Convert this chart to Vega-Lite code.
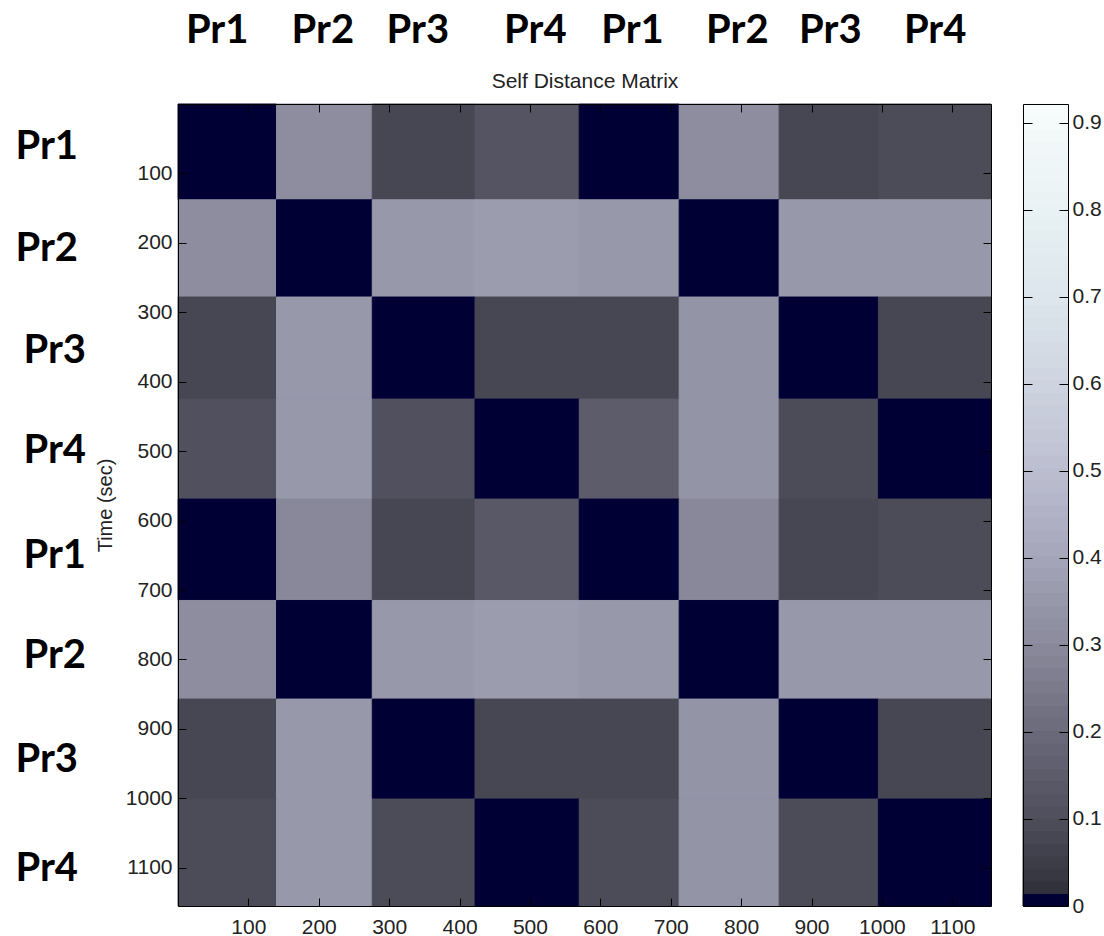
{
  "$schema": "https://vega.github.io/schema/vega-lite/v6.json",
  "padding": {"left": 15, "top": 10, "right": 0, "bottom": 0},
  "background": "white",
  "bounds": "flush",
  "spacing": 32,
  "resolve": {"scale": {"x": "independent", "y": "independent", "color": "independent", "stroke": "independent"}},
  "config": {
    "view": {"stroke": null},
    "axis": {"grid": false}
  },
  "datasets": {
    "cells": [
      {"x0": 0, "x1": 140, "y0": 0, "y1": 138, "d": 0},
      {"x0": 140, "x1": 276, "y0": 0, "y1": 138, "d": 0.31},
      {"x0": 276, "x1": 422, "y0": 0, "y1": 138, "d": 0.08},
      {"x0": 422, "x1": 570, "y0": 0, "y1": 138, "d": 0.12},
      {"x0": 570, "x1": 712, "y0": 0, "y1": 138, "d": 0},
      {"x0": 712, "x1": 854, "y0": 0, "y1": 138, "d": 0.31},
      {"x0": 854, "x1": 995, "y0": 0, "y1": 138, "d": 0.08},
      {"x0": 995, "x1": 1155, "y0": 0, "y1": 138, "d": 0.09},

      {"x0": 0, "x1": 140, "y0": 138, "y1": 278, "d": 0.31},
      {"x0": 140, "x1": 276, "y0": 138, "y1": 278, "d": 0},
      {"x0": 276, "x1": 422, "y0": 138, "y1": 278, "d": 0.355},
      {"x0": 422, "x1": 570, "y0": 138, "y1": 278, "d": 0.365},
      {"x0": 570, "x1": 712, "y0": 138, "y1": 278, "d": 0.355},
      {"x0": 712, "x1": 854, "y0": 138, "y1": 278, "d": 0},
      {"x0": 854, "x1": 995, "y0": 138, "y1": 278, "d": 0.355},
      {"x0": 995, "x1": 1155, "y0": 138, "y1": 278, "d": 0.355},

      {"x0": 0, "x1": 140, "y0": 278, "y1": 425, "d": 0.08},
      {"x0": 140, "x1": 276, "y0": 278, "y1": 425, "d": 0.355},
      {"x0": 276, "x1": 422, "y0": 278, "y1": 425, "d": 0},
      {"x0": 422, "x1": 570, "y0": 278, "y1": 425, "d": 0.085},
      {"x0": 570, "x1": 712, "y0": 278, "y1": 425, "d": 0.08},
      {"x0": 712, "x1": 854, "y0": 278, "y1": 425, "d": 0.345},
      {"x0": 854, "x1": 995, "y0": 278, "y1": 425, "d": 0},
      {"x0": 995, "x1": 1155, "y0": 278, "y1": 425, "d": 0.085},

      {"x0": 0, "x1": 140, "y0": 425, "y1": 569, "d": 0.11},
      {"x0": 140, "x1": 276, "y0": 425, "y1": 569, "d": 0.355},
      {"x0": 276, "x1": 422, "y0": 425, "y1": 569, "d": 0.11},
      {"x0": 422, "x1": 570, "y0": 425, "y1": 569, "d": 0},
      {"x0": 570, "x1": 712, "y0": 425, "y1": 569, "d": 0.15},
      {"x0": 712, "x1": 854, "y0": 425, "y1": 569, "d": 0.345},
      {"x0": 854, "x1": 995, "y0": 425, "y1": 569, "d": 0.1},
      {"x0": 995, "x1": 1155, "y0": 425, "y1": 569, "d": 0},

      {"x0": 0, "x1": 140, "y0": 569, "y1": 715, "d": 0},
      {"x0": 140, "x1": 276, "y0": 569, "y1": 715, "d": 0.3},
      {"x0": 276, "x1": 422, "y0": 569, "y1": 715, "d": 0.08},
      {"x0": 422, "x1": 570, "y0": 569, "y1": 715, "d": 0.14},
      {"x0": 570, "x1": 712, "y0": 569, "y1": 715, "d": 0},
      {"x0": 712, "x1": 854, "y0": 569, "y1": 715, "d": 0.3},
      {"x0": 854, "x1": 995, "y0": 569, "y1": 715, "d": 0.08},
      {"x0": 995, "x1": 1155, "y0": 569, "y1": 715, "d": 0.1},

      {"x0": 0, "x1": 140, "y0": 715, "y1": 857, "d": 0.31},
      {"x0": 140, "x1": 276, "y0": 715, "y1": 857, "d": 0},
      {"x0": 276, "x1": 422, "y0": 715, "y1": 857, "d": 0.355},
      {"x0": 422, "x1": 570, "y0": 715, "y1": 857, "d": 0.365},
      {"x0": 570, "x1": 712, "y0": 715, "y1": 857, "d": 0.355},
      {"x0": 712, "x1": 854, "y0": 715, "y1": 857, "d": 0},
      {"x0": 854, "x1": 995, "y0": 715, "y1": 857, "d": 0.355},
      {"x0": 995, "x1": 1155, "y0": 715, "y1": 857, "d": 0.355},

      {"x0": 0, "x1": 140, "y0": 857, "y1": 1001, "d": 0.08},
      {"x0": 140, "x1": 276, "y0": 857, "y1": 1001, "d": 0.355},
      {"x0": 276, "x1": 422, "y0": 857, "y1": 1001, "d": 0},
      {"x0": 422, "x1": 570, "y0": 857, "y1": 1001, "d": 0.085},
      {"x0": 570, "x1": 712, "y0": 857, "y1": 1001, "d": 0.08},
      {"x0": 712, "x1": 854, "y0": 857, "y1": 1001, "d": 0.345},
      {"x0": 854, "x1": 995, "y0": 857, "y1": 1001, "d": 0},
      {"x0": 995, "x1": 1155, "y0": 857, "y1": 1001, "d": 0.085},

      {"x0": 0, "x1": 140, "y0": 1001, "y1": 1155, "d": 0.1},
      {"x0": 140, "x1": 276, "y0": 1001, "y1": 1155, "d": 0.355},
      {"x0": 276, "x1": 422, "y0": 1001, "y1": 1155, "d": 0.1},
      {"x0": 422, "x1": 570, "y0": 1001, "y1": 1155, "d": 0},
      {"x0": 570, "x1": 712, "y0": 1001, "y1": 1155, "d": 0.1},
      {"x0": 712, "x1": 854, "y0": 1001, "y1": 1155, "d": 0.345},
      {"x0": 854, "x1": 995, "y0": 1001, "y1": 1155, "d": 0.1},
      {"x0": 995, "x1": 1155, "y0": 1001, "y1": 1155, "d": 0}
    ],
    "bands": [
      {"lo": 0, "hi": 0.0144, "d": 0.0072},
      {"lo": 0.0144, "hi": 0.0288, "d": 0.0216},
      {"lo": 0.0288, "hi": 0.0432, "d": 0.036},
      {"lo": 0.0432, "hi": 0.0576, "d": 0.0504},
      {"lo": 0.0576, "hi": 0.072, "d": 0.0648},
      {"lo": 0.072, "hi": 0.0864, "d": 0.0792},
      {"lo": 0.0864, "hi": 0.1008, "d": 0.0936},
      {"lo": 0.1008, "hi": 0.1152, "d": 0.108},
      {"lo": 0.1152, "hi": 0.1296, "d": 0.1224},
      {"lo": 0.1296, "hi": 0.144, "d": 0.1368},
      {"lo": 0.144, "hi": 0.1584, "d": 0.1512},
      {"lo": 0.1584, "hi": 0.1728, "d": 0.1656},
      {"lo": 0.1728, "hi": 0.1872, "d": 0.18},
      {"lo": 0.1872, "hi": 0.2016, "d": 0.1944},
      {"lo": 0.2016, "hi": 0.216, "d": 0.2088},
      {"lo": 0.216, "hi": 0.2304, "d": 0.2232},
      {"lo": 0.2304, "hi": 0.2448, "d": 0.2376},
      {"lo": 0.2448, "hi": 0.2592, "d": 0.252},
      {"lo": 0.2592, "hi": 0.2736, "d": 0.2664},
      {"lo": 0.2736, "hi": 0.288, "d": 0.2808},
      {"lo": 0.288, "hi": 0.3024, "d": 0.2952},
      {"lo": 0.3024, "hi": 0.3168, "d": 0.3096},
      {"lo": 0.3168, "hi": 0.3312, "d": 0.324},
      {"lo": 0.3312, "hi": 0.3456, "d": 0.3384},
      {"lo": 0.3456, "hi": 0.36, "d": 0.3528},
      {"lo": 0.36, "hi": 0.3744, "d": 0.3672},
      {"lo": 0.3744, "hi": 0.3888, "d": 0.3816},
      {"lo": 0.3888, "hi": 0.4032, "d": 0.396},
      {"lo": 0.4032, "hi": 0.4176, "d": 0.4104},
      {"lo": 0.4176, "hi": 0.432, "d": 0.4248},
      {"lo": 0.432, "hi": 0.4464, "d": 0.4392},
      {"lo": 0.4464, "hi": 0.4608, "d": 0.4536},
      {"lo": 0.4608, "hi": 0.4752, "d": 0.468},
      {"lo": 0.4752, "hi": 0.4896, "d": 0.4824},
      {"lo": 0.4896, "hi": 0.504, "d": 0.4968},
      {"lo": 0.504, "hi": 0.5184, "d": 0.5112},
      {"lo": 0.5184, "hi": 0.5328, "d": 0.5256},
      {"lo": 0.5328, "hi": 0.5472, "d": 0.54},
      {"lo": 0.5472, "hi": 0.5616, "d": 0.5544},
      {"lo": 0.5616, "hi": 0.576, "d": 0.5688},
      {"lo": 0.576, "hi": 0.5904, "d": 0.5832},
      {"lo": 0.5904, "hi": 0.6048, "d": 0.5976},
      {"lo": 0.6048, "hi": 0.6192, "d": 0.612},
      {"lo": 0.6192, "hi": 0.6336, "d": 0.6264},
      {"lo": 0.6336, "hi": 0.648, "d": 0.6408},
      {"lo": 0.648, "hi": 0.6624, "d": 0.6552},
      {"lo": 0.6624, "hi": 0.6768, "d": 0.6696},
      {"lo": 0.6768, "hi": 0.6912, "d": 0.684},
      {"lo": 0.6912, "hi": 0.7056, "d": 0.6984},
      {"lo": 0.7056, "hi": 0.72, "d": 0.7128},
      {"lo": 0.72, "hi": 0.7344, "d": 0.7272},
      {"lo": 0.7344, "hi": 0.7488, "d": 0.7416},
      {"lo": 0.7488, "hi": 0.7632, "d": 0.756},
      {"lo": 0.7632, "hi": 0.7776, "d": 0.7704},
      {"lo": 0.7776, "hi": 0.792, "d": 0.7848},
      {"lo": 0.792, "hi": 0.8064, "d": 0.7992},
      {"lo": 0.8064, "hi": 0.8208, "d": 0.8136},
      {"lo": 0.8208, "hi": 0.8352, "d": 0.828},
      {"lo": 0.8352, "hi": 0.8496, "d": 0.8424},
      {"lo": 0.8496, "hi": 0.864, "d": 0.8568},
      {"lo": 0.864, "hi": 0.8784, "d": 0.8712},
      {"lo": 0.8784, "hi": 0.8928, "d": 0.8856},
      {"lo": 0.8928, "hi": 0.9072, "d": 0.9},
      {"lo": 0.9072, "hi": 0.9216, "d": 0.9144}
    ]
  },
  "hconcat": [
    {
      "width": 813,
      "height": 802,
      "data": {"name": "cells"},
      "layer": [
        {
          "mark": {"type": "rect", "strokeWidth": 1},
          "encoding": {
            "x": {
              "field": "x0", "type": "quantitative",
              "scale": {"domain": [0, 1155], "nice": false, "zero": false},
              "axis": {
                "orient": "bottom", "title": null,
                "values": [100, 200, 300, 400, 500, 600, 700, 800, 900, 1000, 1100],
                "format": "d",
                "domain": true, "domainColor": "#000", "domainWidth": 1,
                "ticks": true, "tickSize": -8, "tickColor": "#000",
                "labelFont": "Liberation Sans", "labelFontSize": 21, "labelColor": "#222",
                "labelPadding": 18, "labelFlush": false, "labelOverlap": false,
                "zindex": 1
              }
            },
            "x2": {"field": "x1"},
            "y": {
              "field": "y0", "type": "quantitative",
              "scale": {"domain": [0, 1155], "nice": false, "zero": false, "reverse": true},
              "axis": {
                "orient": "left",
                "values": [100, 200, 300, 400, 500, 600, 700, 800, 900, 1000, 1100],
                "format": "d",
                "domain": true, "domainColor": "#000", "domainWidth": 1,
                "ticks": true, "tickSize": -8, "tickColor": "#000",
                "labelFont": "Liberation Sans", "labelFontSize": 21, "labelColor": "#222",
                "labelPadding": 14, "labelFlush": false, "labelOverlap": false,
                "title": "Time (sec)",
                "titleFont": "Liberation Sans", "titleFontSize": 20, "titleFontWeight": "normal",
                "titleColor": "#222", "titlePadding": 10,
                "zindex": 1
              }
            },
            "y2": {"field": "y1"},
            "color": {
              "field": "d", "type": "quantitative",
              "scale": {
                "type": "quantize", "domain": [0, 0.9216], "nice": false,
                "range": [
                  "rgb(0,0,53)", "rgb(50,50,61)", "rgb(56,56,67)", "rgb(61,61,72)",
                  "rgb(66,66,78)", "rgb(71,71,84)", "rgb(76,76,89)", "rgb(80,80,94)",
                  "rgb(84,84,99)", "rgb(88,88,103)", "rgb(92,92,107)", "rgb(96,96,112)",
                  "rgb(100,100,116)", "rgb(104,104,120)", "rgb(109,109,125)", "rgb(113,113,130)",
                  "rgb(118,118,135)", "rgb(123,123,140)", "rgb(127,127,145)", "rgb(132,132,149)",
                  "rgb(136,136,154)", "rgb(141,141,159)", "rgb(144,144,163)", "rgb(148,148,167)",
                  "rgb(152,152,171)", "rgb(156,156,175)", "rgb(160,160,180)", "rgb(164,164,184)",
                  "rgb(167,168,187)", "rgb(171,171,191)", "rgb(174,175,194)", "rgb(177,178,197)",
                  "rgb(181,182,201)", "rgb(184,186,204)", "rgb(187,189,207)", "rgb(190,192,210)",
                  "rgb(193,196,212)", "rgb(195,199,214)", "rgb(198,202,217)", "rgb(200,205,219)",
                  "rgb(203,208,221)", "rgb(206,211,224)", "rgb(208,214,225)", "rgb(210,217,227)",
                  "rgb(212,219,229)", "rgb(214,222,231)", "rgb(216,225,232)", "rgb(218,227,234)",
                  "rgb(220,230,236)", "rgb(222,231,237)", "rgb(223,233,238)", "rgb(225,235,239)",
                  "rgb(227,236,240)", "rgb(228,238,241)", "rgb(230,239,242)", "rgb(232,241,243)",
                  "rgb(234,242,244)", "rgb(236,244,245)", "rgb(238,245,246)", "rgb(239,246,247)",
                  "rgb(241,247,248)", "rgb(243,249,249)", "rgb(245,250,250)", "rgb(247,251,251)"
                ]
              },
              "legend": null
            },
            "stroke": {
              "field": "d", "type": "quantitative",
              "scale": {
                "type": "quantize", "domain": [0, 0.9216], "nice": false,
                "range": [
                  "rgb(0,0,53)", "rgb(50,50,61)", "rgb(56,56,67)", "rgb(61,61,72)",
                  "rgb(66,66,78)", "rgb(71,71,84)", "rgb(76,76,89)", "rgb(80,80,94)",
                  "rgb(84,84,99)", "rgb(88,88,103)", "rgb(92,92,107)", "rgb(96,96,112)",
                  "rgb(100,100,116)", "rgb(104,104,120)", "rgb(109,109,125)", "rgb(113,113,130)",
                  "rgb(118,118,135)", "rgb(123,123,140)", "rgb(127,127,145)", "rgb(132,132,149)",
                  "rgb(136,136,154)", "rgb(141,141,159)", "rgb(144,144,163)", "rgb(148,148,167)",
                  "rgb(152,152,171)", "rgb(156,156,175)", "rgb(160,160,180)", "rgb(164,164,184)",
                  "rgb(167,168,187)", "rgb(171,171,191)", "rgb(174,175,194)", "rgb(177,178,197)",
                  "rgb(181,182,201)", "rgb(184,186,204)", "rgb(187,189,207)", "rgb(190,192,210)",
                  "rgb(193,196,212)", "rgb(195,199,214)", "rgb(198,202,217)", "rgb(200,205,219)",
                  "rgb(203,208,221)", "rgb(206,211,224)", "rgb(208,214,225)", "rgb(210,217,227)",
                  "rgb(212,219,229)", "rgb(214,222,231)", "rgb(216,225,232)", "rgb(218,227,234)",
                  "rgb(220,230,236)", "rgb(222,231,237)", "rgb(223,233,238)", "rgb(225,235,239)",
                  "rgb(227,236,240)", "rgb(228,238,241)", "rgb(230,239,242)", "rgb(232,241,243)",
                  "rgb(234,242,244)", "rgb(236,244,245)", "rgb(238,245,246)", "rgb(239,246,247)",
                  "rgb(241,247,248)", "rgb(243,249,249)", "rgb(245,250,250)", "rgb(247,251,251)"
                ]
              },
              "legend": null
            }
          }
        },
        {
          "mark": {"type": "rect", "opacity": 0},
          "encoding": {
            "x": {
              "field": "x0", "type": "quantitative",
              "scale": {"domain": [0, 1155], "nice": false, "zero": false},
              "axis": {
                "orient": "top",
                "values": [100, 200, 300, 400, 500, 600, 700, 800, 900, 1000, 1100],
                "labels": false,
                "domain": true, "domainColor": "#000", "domainWidth": 1,
                "ticks": true, "tickSize": -8, "tickColor": "#000",
                "title": "Self Distance Matrix",
                "titleFont": "Liberation Sans", "titleFontSize": 21, "titleFontWeight": "normal",
                "titleColor": "#222", "titlePadding": 16, "titleBaseline": "alphabetic",
                "zindex": 1
              }
            },
            "x2": {"field": "x1"},
            "y": {
              "field": "y0", "type": "quantitative",
              "scale": {"domain": [0, 1155], "nice": false, "zero": false, "reverse": true},
              "axis": {
                "orient": "right",
                "values": [100, 200, 300, 400, 500, 600, 700, 800, 900, 1000, 1100],
                "labels": false, "title": null,
                "domain": true, "domainColor": "#000", "domainWidth": 1,
                "ticks": true, "tickSize": -8, "tickColor": "#000",
                "zindex": 1
              }
            },
            "y2": {"field": "y1"}
          }
        },
        {
          "mark": {"type": "rect", "opacity": 0},
          "encoding": {
            "x": {
              "field": "x0", "type": "quantitative",
              "scale": {"domain": [0, 1155], "nice": false, "zero": false},
              "axis": {
                "orient": "top", "title": null,
                "values": [55, 205, 340, 507, 645, 794, 926, 1075],
                "labelExpr": "datum.value < 130 ? 'Pr1' : datum.value < 270 ? 'Pr2' : datum.value < 420 ? 'Pr3' : datum.value < 575 ? 'Pr4' : datum.value < 720 ? 'Pr1' : datum.value < 860 ? 'Pr2' : datum.value < 1000 ? 'Pr3' : 'Pr4'",
                "domain": false, "ticks": false, "tickSize": 0,
                "labelFont": "Lato", "labelFontWeight": "bold", "labelFontSize": 40, "labelColor": "#000",
                "labelPadding": 62, "labelBaseline": "alphabetic", "labelAlign": "center",
                "labelFlush": false, "labelOverlap": false
              }
            },
            "x2": {"field": "x1"},
            "y": {
              "field": "y0", "type": "quantitative",
              "scale": {"domain": [0, 1155], "nice": false, "zero": false, "reverse": true},
              "axis": {
                "orient": "left", "title": null,
                "values": [78, 225, 372, 517, 668, 811, 962, 1118],
                "labelExpr": "datum.value < 150 ? 'Pr1' : datum.value < 300 ? 'Pr2' : datum.value < 445 ? 'Pr3' : datum.value < 590 ? 'Pr4' : datum.value < 740 ? 'Pr1' : datum.value < 885 ? 'Pr2' : datum.value < 1040 ? 'Pr3' : 'Pr4'",
                "domain": false, "ticks": false, "tickSize": 0,
                "labelFont": "Lato", "labelFontWeight": "bold", "labelFontSize": 40, "labelColor": "#000",
                "labelPadding": {"expr": "datum.value > 300 && datum.value < 900 ? 155 : 163"},
                "labelBaseline": "alphabetic", "labelAlign": "left",
                "labelFlush": false, "labelOverlap": false
              }
            },
            "y2": {"field": "y1"}
          }
        }
      ],
      "resolve": {"axis": {"x": "independent", "y": "independent"}}
    },
    {
      "width": 45,
      "height": 802,
      "data": {"name": "bands"},
      "layer": [
        {
          "mark": {"type": "rect", "strokeWidth": 1},
          "encoding": {
            "x": {
              "datum": 0, "type": "quantitative",
              "scale": {"domain": [0, 1], "nice": false, "zero": false},
              "axis": {
                "orient": "bottom", "title": null, "labels": false, "ticks": false,
                "domain": true, "domainColor": "#000", "domainWidth": 1, "zindex": 1
              }
            },
            "x2": {"datum": 1},
            "y": {
              "field": "lo", "type": "quantitative",
              "scale": {"domain": [0, 0.9216], "nice": false, "zero": false},
              "axis": {
                "orient": "right", "title": null,
                "values": [0, 0.1, 0.2, 0.3, 0.4, 0.5, 0.6, 0.7, 0.8, 0.9],
                "labelExpr": "datum.value == 0 ? '0' : format(datum.value, '.1f')",
                "domain": true, "domainColor": "#000", "domainWidth": 1,
                "ticks": true, "tickSize": -9, "tickColor": "#000",
                "labelFont": "Liberation Sans", "labelFontSize": 21, "labelColor": "#222",
                "labelPadding": 13, "labelFlush": false, "labelOverlap": false,
                "zindex": 1
              }
            },
            "y2": {"field": "hi"},
            "color": {
              "field": "d", "type": "quantitative",
              "scale": {
                "type": "quantize", "domain": [0, 0.9216], "nice": false,
                "range": [
                  "rgb(0,0,53)", "rgb(50,50,61)", "rgb(56,56,67)", "rgb(61,61,72)",
                  "rgb(66,66,78)", "rgb(71,71,84)", "rgb(76,76,89)", "rgb(80,80,94)",
                  "rgb(84,84,99)", "rgb(88,88,103)", "rgb(92,92,107)", "rgb(96,96,112)",
                  "rgb(100,100,116)", "rgb(104,104,120)", "rgb(109,109,125)", "rgb(113,113,130)",
                  "rgb(118,118,135)", "rgb(123,123,140)", "rgb(127,127,145)", "rgb(132,132,149)",
                  "rgb(136,136,154)", "rgb(141,141,159)", "rgb(144,144,163)", "rgb(148,148,167)",
                  "rgb(152,152,171)", "rgb(156,156,175)", "rgb(160,160,180)", "rgb(164,164,184)",
                  "rgb(167,168,187)", "rgb(171,171,191)", "rgb(174,175,194)", "rgb(177,178,197)",
                  "rgb(181,182,201)", "rgb(184,186,204)", "rgb(187,189,207)", "rgb(190,192,210)",
                  "rgb(193,196,212)", "rgb(195,199,214)", "rgb(198,202,217)", "rgb(200,205,219)",
                  "rgb(203,208,221)", "rgb(206,211,224)", "rgb(208,214,225)", "rgb(210,217,227)",
                  "rgb(212,219,229)", "rgb(214,222,231)", "rgb(216,225,232)", "rgb(218,227,234)",
                  "rgb(220,230,236)", "rgb(222,231,237)", "rgb(223,233,238)", "rgb(225,235,239)",
                  "rgb(227,236,240)", "rgb(228,238,241)", "rgb(230,239,242)", "rgb(232,241,243)",
                  "rgb(234,242,244)", "rgb(236,244,245)", "rgb(238,245,246)", "rgb(239,246,247)",
                  "rgb(241,247,248)", "rgb(243,249,249)", "rgb(245,250,250)", "rgb(247,251,251)"
                ]
              },
              "legend": null
            },
            "stroke": {
              "field": "d", "type": "quantitative",
              "scale": {
                "type": "quantize", "domain": [0, 0.9216], "nice": false,
                "range": [
                  "rgb(0,0,53)", "rgb(50,50,61)", "rgb(56,56,67)", "rgb(61,61,72)",
                  "rgb(66,66,78)", "rgb(71,71,84)", "rgb(76,76,89)", "rgb(80,80,94)",
                  "rgb(84,84,99)", "rgb(88,88,103)", "rgb(92,92,107)", "rgb(96,96,112)",
                  "rgb(100,100,116)", "rgb(104,104,120)", "rgb(109,109,125)", "rgb(113,113,130)",
                  "rgb(118,118,135)", "rgb(123,123,140)", "rgb(127,127,145)", "rgb(132,132,149)",
                  "rgb(136,136,154)", "rgb(141,141,159)", "rgb(144,144,163)", "rgb(148,148,167)",
                  "rgb(152,152,171)", "rgb(156,156,175)", "rgb(160,160,180)", "rgb(164,164,184)",
                  "rgb(167,168,187)", "rgb(171,171,191)", "rgb(174,175,194)", "rgb(177,178,197)",
                  "rgb(181,182,201)", "rgb(184,186,204)", "rgb(187,189,207)", "rgb(190,192,210)",
                  "rgb(193,196,212)", "rgb(195,199,214)", "rgb(198,202,217)", "rgb(200,205,219)",
                  "rgb(203,208,221)", "rgb(206,211,224)", "rgb(208,214,225)", "rgb(210,217,227)",
                  "rgb(212,219,229)", "rgb(214,222,231)", "rgb(216,225,232)", "rgb(218,227,234)",
                  "rgb(220,230,236)", "rgb(222,231,237)", "rgb(223,233,238)", "rgb(225,235,239)",
                  "rgb(227,236,240)", "rgb(228,238,241)", "rgb(230,239,242)", "rgb(232,241,243)",
                  "rgb(234,242,244)", "rgb(236,244,245)", "rgb(238,245,246)", "rgb(239,246,247)",
                  "rgb(241,247,248)", "rgb(243,249,249)", "rgb(245,250,250)", "rgb(247,251,251)"
                ]
              },
              "legend": null
            }
          }
        },
        {
          "mark": {"type": "rect", "opacity": 0},
          "encoding": {
            "x": {
              "datum": 0, "type": "quantitative",
              "scale": {"domain": [0, 1], "nice": false, "zero": false},
              "axis": {
                "orient": "top", "title": null, "labels": false, "ticks": false,
                "domain": true, "domainColor": "#000", "domainWidth": 1, "zindex": 1
              }
            },
            "x2": {"datum": 1},
            "y": {
              "field": "lo", "type": "quantitative",
              "scale": {"domain": [0, 0.9216], "nice": false, "zero": false},
              "axis": {
                "orient": "left", "title": null, "labels": false,
                "values": [0, 0.1, 0.2, 0.3, 0.4, 0.5, 0.6, 0.7, 0.8, 0.9],
                "domain": true, "domainColor": "#000", "domainWidth": 1,
                "ticks": true, "tickSize": -9, "tickColor": "#000",
                "zindex": 1
              }
            },
            "y2": {"field": "hi"}
          }
        }
      ],
      "resolve": {"axis": {"x": "independent", "y": "independent"}}
    }
  ]
}
